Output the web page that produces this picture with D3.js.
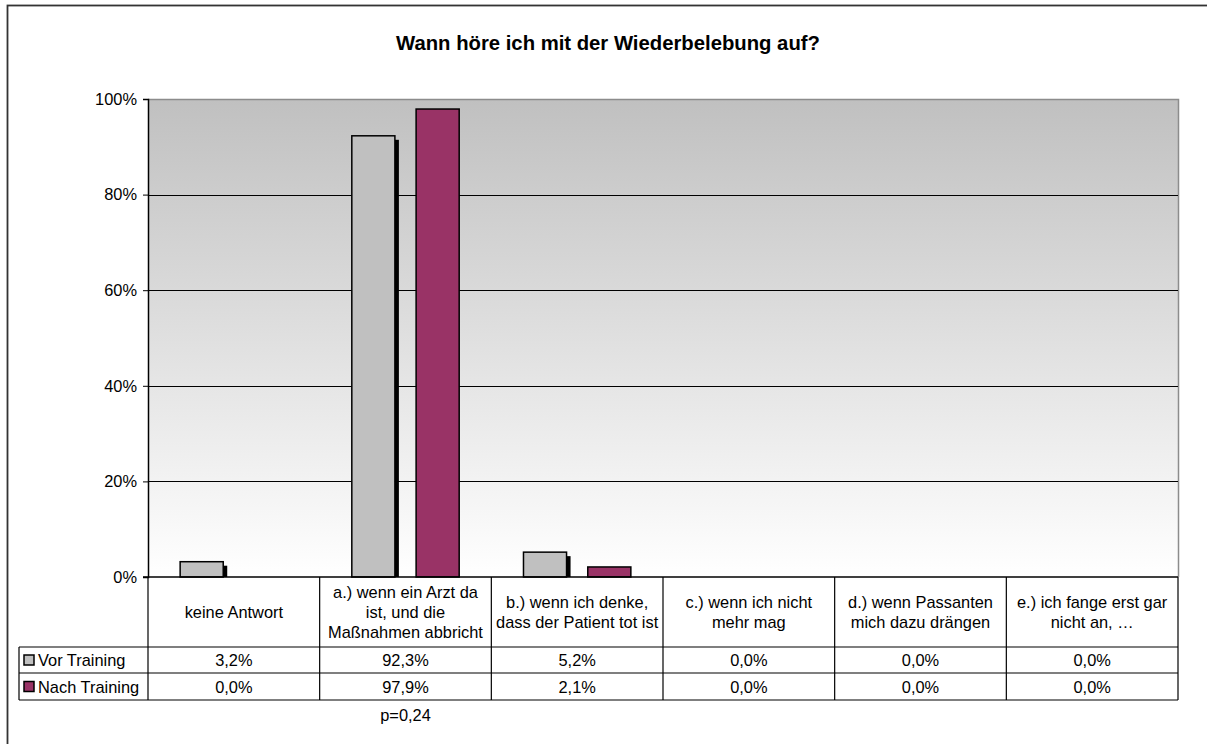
<!DOCTYPE html>
<html>
<head>
<meta charset="utf-8">
<script src="https://cdn.jsdelivr.net/npm/d3@7"></script>
<style>
  html, body { margin: 0; padding: 0; background: #ffffff; }
  svg { display: block; font-family: "Liberation Sans", Arial, sans-serif; }
</style>
</head>
<body>
<svg id="chart" width="1207" height="744"></svg>
<script>
// Survey answers: "When do I stop resuscitation?"
const chartTitle = "Wann höre ich mit der Wiederbelebung auf?";
const categories = [
  ["keine Antwort"],
  ["a.) wenn ein Arzt da", "ist, und die", "Maßnahmen abbricht"],
  ["b.) wenn ich denke,", "dass der Patient tot ist"],
  ["c.) wenn ich nicht", "mehr mag"],
  ["d.) wenn Passanten", "mich dazu drängen"],
  ["e.) ich fange erst gar", "nicht an, …"]
];
const seriesNames = ["Vor Training", "Nach Training"];
const vorTraining = [3.2, 92.3, 5.2, 0.0, 0.0, 0.0];
const nachTraining = [0.0, 97.9, 2.1, 0.0, 0.0, 0.0];
const seriesColors = ["#c0c0c0", "#993366"];
const yTicks = [0, 20, 40, 60, 80, 100];
const footnote = "p=0,24";

const series = [vorTraining, nachTraining];
const svg = d3.select("#chart");
const FS = 16.4;

// frame
svg.append("rect")
  .attr("x", 7.5).attr("y", 5.5)
  .attr("width", 1220).attr("height", 760)
  .attr("fill", "none").attr("stroke", "#333").attr("stroke-width", 1.8);

// title
svg.append("text")
  .attr("x", 608).attr("y", 50)
  .attr("text-anchor", "middle")
  .attr("font-size", 20.3).attr("font-weight", "bold")
  .text(chartTitle);

const plot = { left: 148, right: 1178, top: 99, bottom: 577 };

const x = d3.scaleBand()
  .domain(d3.range(categories.length))
  .range([plot.left, plot.right])
  .paddingInner(0).paddingOuter(0);

const x1 = d3.scaleBand()
  .domain(d3.range(series.length))
  .range([0, x.bandwidth()])
  .paddingInner(0.33)
  .paddingOuter(0.5);

const y = d3.scaleLinear().domain([0, 100]).range([plot.bottom, plot.top]);

// plot background gradient
const defs = svg.append("defs");
const grad = defs.append("linearGradient")
  .attr("id", "bg").attr("x1", 0).attr("y1", 0).attr("x2", 0).attr("y2", 1);
grad.append("stop").attr("offset", "0%").attr("stop-color", "#c0c0c0");
grad.append("stop").attr("offset", "100%").attr("stop-color", "#ffffff");

svg.append("rect")
  .attr("x", plot.left).attr("y", plot.top)
  .attr("width", plot.right - plot.left).attr("height", plot.bottom - plot.top)
  .attr("fill", "url(#bg)");

// plot border (top / right)
svg.append("path")
  .attr("d", `M${plot.left},${plot.top + 0.5}H${plot.right + 0.5}V${plot.bottom}`)
  .attr("fill", "none").attr("stroke", "#8c8c8c").attr("stroke-width", 1.5);

// gridlines
svg.append("g")
  .selectAll("line")
  .data(yTicks.filter(t => t > 0 && t < 100))
  .join("line")
  .attr("x1", plot.left).attr("x2", plot.right)
  .attr("y1", d => Math.round(y(d)) + 0.5).attr("y2", d => Math.round(y(d)) + 0.5)
  .attr("stroke", "#000").attr("stroke-width", 1);

// y axis
const yAxis = d3.axisLeft(y)
  .tickValues(yTicks)
  .tickFormat(d => d + "%")
  .tickSize(5)
  .tickPadding(6);
const yg = svg.append("g")
  .attr("transform", `translate(${plot.left},0)`)
  .call(yAxis);
yg.select(".domain").attr("stroke", "#000").attr("stroke-width", 1.5);
yg.selectAll(".tick line").attr("stroke", "#000");
yg.selectAll(".tick text")
  .attr("font-size", FS).attr("fill", "#000")
  .attr("font-family", "Liberation Sans, Arial, sans-serif");

// bars
const groups = svg.append("g")
  .selectAll("g")
  .data(categories.map((c, i) => i))
  .join("g")
  .attr("transform", i => `translate(${x(i)},0)`);

groups.each(function (i) {
  const g = d3.select(this);
  series.forEach((vals, s) => {
    const v = vals[i];
    if (v <= 0) return;
    const bx = x1(s), bw = x1.bandwidth();
    const top = y(v), h = plot.bottom - top;
    if (s === 0) {
      // drop shadow on the right side
      g.append("rect")
        .attr("x", bx + bw).attr("y", top + 4)
        .attr("width", 4).attr("height", Math.max(0, h - 4))
        .attr("fill", "#000");
    }
    g.append("rect")
      .attr("x", bx).attr("y", top)
      .attr("width", bw).attr("height", h)
      .attr("fill", seriesColors[s])
      .attr("stroke", "#000").attr("stroke-width", 1.5);
  });
});

// x axis baseline
svg.append("line")
  .attr("x1", plot.left - 5).attr("x2", plot.right)
  .attr("y1", plot.bottom).attr("y2", plot.bottom)
  .attr("stroke", "#000").attr("stroke-width", 1.5);

// data table below the plot
const table = { headBottom: 647, row1Bottom: 673, row2Bottom: 700, legendLeft: 19 };
const tg = svg.append("g").attr("stroke", "#000").attr("stroke-width", 1.2);

// vertical lines between categories
tg.selectAll("line.v")
  .data(d3.range(categories.length + 1))
  .join("line")
  .attr("class", "v")
  .attr("x1", i => i < categories.length ? x(i) : plot.right)
  .attr("x2", i => i < categories.length ? x(i) : plot.right)
  .attr("y1", plot.bottom).attr("y2", table.row2Bottom);

// horizontal lines
[table.headBottom, table.row1Bottom, table.row2Bottom].forEach(yy => {
  tg.append("line")
    .attr("x1", table.legendLeft).attr("x2", plot.right)
    .attr("y1", yy).attr("y2", yy);
});
tg.append("line")
  .attr("x1", table.legendLeft).attr("x2", table.legendLeft)
  .attr("y1", table.headBottom).attr("y2", table.row2Bottom);

// header labels
const headCenter = (plot.bottom + table.headBottom) / 2;
const lineH = 20;
groups.append("text")
  .attr("x", x.bandwidth() / 2)
  .attr("text-anchor", "middle")
  .attr("font-size", FS)
  .attr("fill", "#000")
  .each(function (i) {
    const lines = categories[i];
    const t = d3.select(this);
    const start = headCenter - (lines.length - 1) * lineH / 2 + 6;
    lines.forEach((ln, k) => {
      t.append("tspan").attr("x", x.bandwidth() / 2).attr("y", start + k * lineH).text(ln);
    });
  });

// value rows
const fmt = v => v.toFixed(1).replace(".", ",") + "%";
const rowCenters = [(table.headBottom + table.row1Bottom) / 2, (table.row1Bottom + table.row2Bottom) / 2];
series.forEach((vals, s) => {
  svg.append("g")
    .selectAll("text")
    .data(vals)
    .join("text")
    .attr("x", (d, i) => x(i) + x.bandwidth() / 2)
    .attr("y", rowCenters[s] + 6)
    .attr("text-anchor", "middle")
    .attr("font-size", FS)
    .text(d => fmt(d));

  // legend entries
  svg.append("rect")
    .attr("x", 24).attr("y", rowCenters[s] - 5)
    .attr("width", 10).attr("height", 10)
    .attr("fill", seriesColors[s])
    .attr("stroke", "#000").attr("stroke-width", 1.5);
  svg.append("text")
    .attr("x", 38).attr("y", rowCenters[s] + 6)
    .attr("font-size", FS)
    .text(seriesNames[s]);
});

// significance note
svg.append("text")
  .attr("x", x(1) + x.bandwidth() / 2)
  .attr("y", 721)
  .attr("text-anchor", "middle")
  .attr("font-size", FS)
  .text(footnote);
</script>
</body>
</html>
